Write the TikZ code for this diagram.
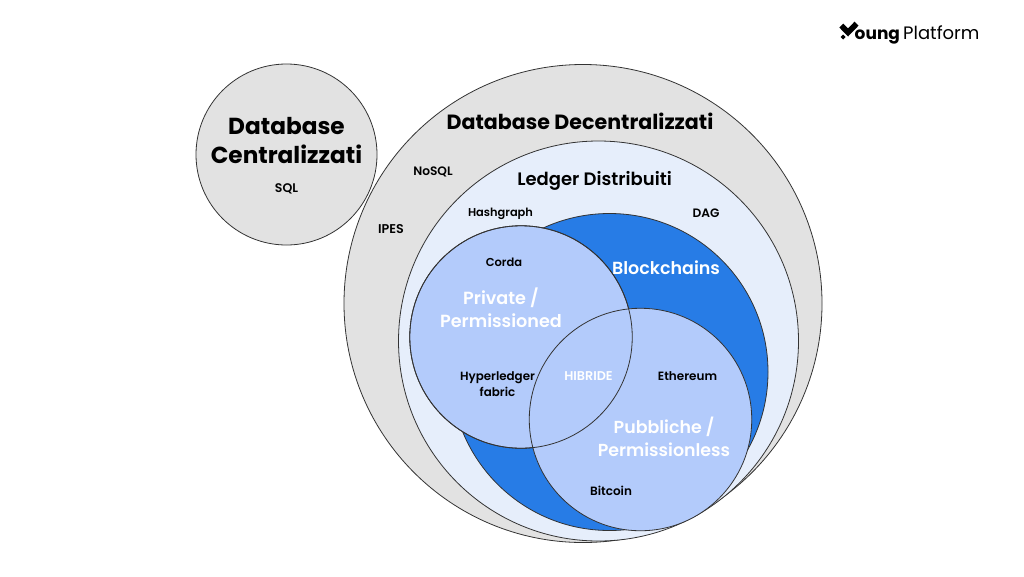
\documentclass[tikz,border=0pt]{standalone}
\usepackage{fontspec}
\setmainfont{Poppins}[BoldFont={Poppins SemiBold}]
\newfontfamily\hvy{Poppins}
\newcommand{\tsz}[2]{\fontsize{#1}{#2}\selectfont\bfseries}
\begin{document}
\begin{tikzpicture}[x=1pt,y=-1pt,
  ring/.style={circle,draw=black!80,line width=0.8pt,inner sep=0pt},
  hdr/.style={text=black,align=center,inner sep=0pt},
  wht/.style={text=white,align=center,inner sep=0pt},
  lab/.style={text=black,align=center,inner sep=0pt}]
\definecolor{greyF}{HTML}{E2E2E2}
\definecolor{paleB}{HTML}{E6EEFB}
\definecolor{midB}{HTML}{277CE6}
\definecolor{liteB}{HTML}{B3CBFB}
\useasboundingbox (0,0) rectangle (1024,576);
\fill[white] (0,0) rectangle (1024,576);
\node[ring,fill=greyF,minimum size=181pt] (central) at (286.5,154.5) {};
\node[ring,fill=greyF,minimum size=478pt] (decent) at (583,303.5) {};
\node[ring,fill=paleB,minimum size=400pt] (ledger) at (598.5,341) {};
\node[ring,fill=midB,minimum size=317pt] (chain) at (609.5,372) {};
\node[ring,fill=liteB,minimum size=222.5pt] (priv) at (521,337) {};
\node[ring,fill=liteB,minimum size=222.5pt] (pub) at (640.5,419.5) {};
\node[ring,minimum size=222.5pt] (privline) at (521,337) {};
\node[hdr,font=\hvy\tsz{23.2}{29}] (t1) at (286.5,141) {Database\\Centralizzati};
\node[lab,font=\tsz{12.5}{15}] (t2) at (286.5,188.5) {SQL};
\node[hdr,font=\hvy\tsz{20.6}{25}] (t3) at (580,121) {Database Decentralizzati};
\node[lab,font=\tsz{12.2}{15}] (t4) at (433,172) {NoSQL};
\node[lab,font=\tsz{12.7}{15}] (t5) at (391,229) {IPES};
\node[hdr,font=\tsz{18}{22}] (t6) at (594.5,181) {Ledger Distribuiti};
\node[lab,font=\tsz{11.4}{15}] (t7) at (500.5,214) {Hashgraph};
\node[lab,font=\tsz{12.2}{15}] (t8) at (706,213.5) {DAG};
\node[wht,font=\tsz{17.5}{22}] (t9) at (666,267.5) {Blockchains};
\node[lab,font=\tsz{11.5}{15}] (t10) at (504,262) {Corda};
\node[wht,font=\tsz{17.6}{23}] (t11) at (501,307.5) {Private /\\Permissioned};
\node[lab,font=\tsz{11.9}{16}] (t12) at (497.5,384.5) {Hyperledger\\fabric};
\node[wht,font=\tsz{12.7}{15}] (t13) at (588.5,376.5) {HIBRIDE};
\node[lab,font=\tsz{12}{15}] (t14) at (687.5,376.5) {Ethereum};
\node[wht,font=\tsz{17.4}{23}] (t15) at (664,437) {Pubbliche /\\Permissionless};
\node[lab,font=\tsz{12}{15}] (t16) at (611,490.5) {Bitcoin};
% logo
\fill[black] (839.3,27.5) -- (843.2,23.6) -- (848,28.4) -- (854.5,21.7) -- (858.5,25.7) -- (848,36.5) -- cycle;
\fill[black] (840.5,37) -- (843,34.5) -- (845.5,37) -- (843,39.5) -- cycle;
\node[font=\hvy\tsz{17}{20},text=black,inner sep=0pt,anchor=base west] (logoA) at (854.5,39) {oung};
\node[font=\fontsize{18}{20}\selectfont,text=black,inner sep=0pt,anchor=base west] (logoB) at (903,39) {Platform};
\end{tikzpicture}
\end{document}
